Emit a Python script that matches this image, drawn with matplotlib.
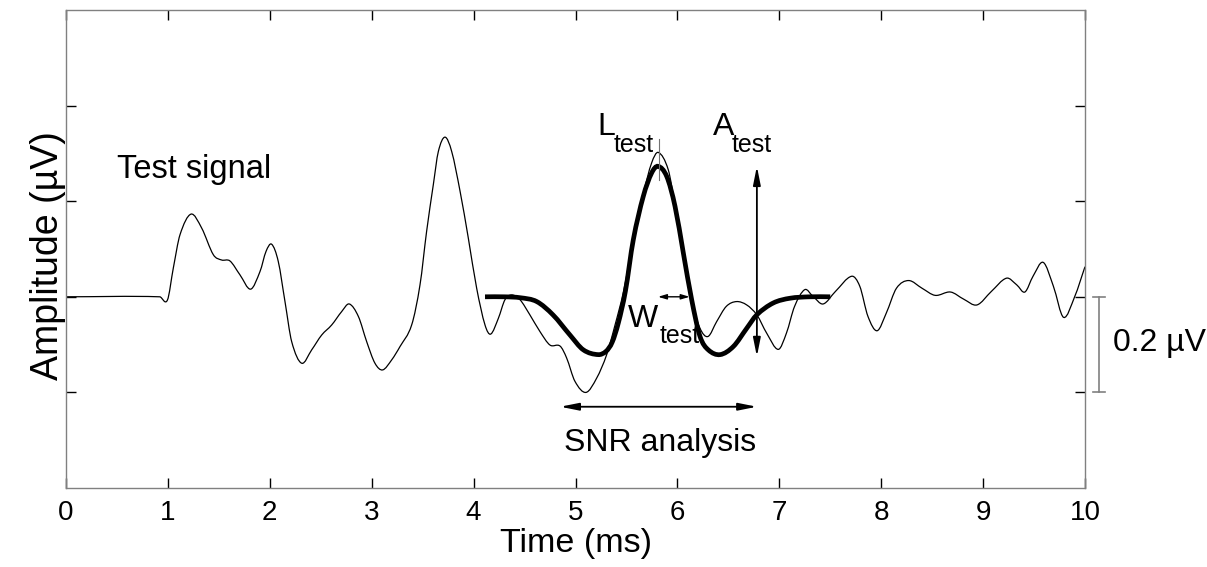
import matplotlib
matplotlib.use("Agg")
import matplotlib.pyplot as plt
from matplotlib.path import Path
from matplotlib.patches import PathPatch

plt.rcParams['font.family'] = ['Liberation Sans', 'DejaVu Sans']

# ---- data ----
signal_t = [0.0, 0.92, 0.995, 1.053, 1.119, 1.227, 1.331, 1.446, 1.527, 1.609, 1.707,
            1.812, 1.904, 1.963, 2.018, 2.083, 2.149, 2.215, 2.313, 2.411, 2.509,
            2.607, 2.705, 2.78, 2.869, 2.951, 3.032, 3.107, 3.196, 3.278, 3.392,
            3.474, 3.539, 3.605, 3.654, 3.719, 3.785, 3.867, 3.948, 4.030, 4.112,
            4.168, 4.243, 4.308, 4.374, 4.455, 4.553, 4.652, 4.750, 4.848, 4.913,
            4.995, 5.103, 5.208, 5.306, 5.388, 5.47, 5.567, 5.665, 5.747, 5.813,
            5.91, 5.977, 6.058, 6.14, 6.22, 6.30, 6.385, 6.48, 6.58, 6.68, 6.78,
            6.876, 6.99, 7.07, 7.15, 7.25, 7.33, 7.43, 7.55, 7.71, 7.79, 7.87,
            7.96, 8.05, 8.15, 8.27, 8.40, 8.53, 8.68, 8.81, 8.94, 9.08, 9.23,
            9.33, 9.41, 9.49, 9.59, 9.69, 9.79, 9.90, 10.0]
signal_v = [0.0, 0.0, -0.007, 0.060, 0.130, 0.173, 0.144, 0.088, 0.077, 0.075, 0.046,
            0.016, 0.053, 0.095, 0.110, 0.074, -0.010, -0.094, -0.139, -0.111, -0.080,
            -0.059, -0.031, -0.015, -0.041, -0.094, -0.139, -0.153, -0.132, -0.104, -0.059,
            0.025, 0.137, 0.235, 0.304, 0.334, 0.304, 0.221, 0.123, 0.018, -0.059,
            -0.078, -0.045, -0.006, 0.004, -0.006, -0.038, -0.073, -0.101, -0.103, -0.128,
            -0.177, -0.200, -0.170, -0.121, -0.059, 0.010, 0.119, 0.215, 0.280, 0.302,
            0.266, 0.190, 0.092, -0.006, -0.065, -0.083, -0.052, -0.020, -0.010, -0.017, -0.038,
            -0.076, -0.110, -0.076, -0.020, 0.015, 0.001, -0.015, 0.011, 0.043, 0.022, -0.041,
            -0.071, -0.034, 0.018, 0.034, 0.018, 0.003, 0.010, -0.005, -0.017, 0.011, 0.039,
            0.025, 0.010, 0.043, 0.072, 0.022, -0.043, 0.001, 0.063]

template_t = [4.112, 4.30, 4.46, 4.62, 4.78, 4.946, 5.077, 5.224, 5.30, 5.36, 5.42,
              5.49, 5.567, 5.665, 5.747, 5.81, 5.895, 5.977, 6.058, 6.14,
              6.222, 6.303, 6.418, 6.549, 6.68, 6.778, 6.94, 7.105, 7.30, 7.50]
template_v = [0.0, 0.0, -0.002, -0.010, -0.038, -0.080, -0.111, -0.121, -0.114, -0.095, -0.055,
              0.012, 0.119, 0.210, 0.259, 0.273, 0.252, 0.189, 0.092, -0.006,
              -0.083, -0.111, -0.121, -0.104, -0.066, -0.038, -0.013, -0.003, 0.0, 0.0]

x_ticks = [0, 1, 2, 3, 4, 5, 6, 7, 8, 9, 10]
y_ticks = [-0.2, 0.0, 0.2, 0.4]

latency = 5.82
peak_amp = 0.273
trough_amp = -0.125
width_span = (5.81, 6.12)
snr_span = (4.85, 6.78)
scale_bar = (0.0, -0.2)


def smooth_path(t, v):
    """Cubic Hermite (Bezier) path through the read points; matplotlib draws the curve."""
    n = len(t)
    slopes = []
    for i in range(n):
        if i == 0:
            s = (v[1] - v[0]) / (t[1] - t[0])
        elif i == n - 1:
            s = (v[-1] - v[-2]) / (t[-1] - t[-2])
        else:
            s = (v[i + 1] - v[i - 1]) / (t[i + 1] - t[i - 1])
        slopes.append(s)
    verts = [(t[0], v[0])]
    codes = [Path.MOVETO]
    for i in range(n - 1):
        dt = t[i + 1] - t[i]
        verts += [(t[i] + dt / 3, v[i] + slopes[i] * dt / 3),
                  (t[i + 1] - dt / 3, v[i + 1] - slopes[i + 1] * dt / 3),
                  (t[i + 1], v[i + 1])]
        codes += [Path.CURVE4] * 3
    return Path(verts, codes)


# ---- figure ----
fig = plt.figure(figsize=(12.07, 5.67), dpi=100)
ax = fig.add_axes([66 / 1207, 1 - 488 / 567, (1085 - 66) / 1207, (488 - 10) / 567])

ax.add_patch(PathPatch(smooth_path(signal_t, signal_v), fill=False, edgecolor='black',
                       lw=0.9, zorder=2))
ax.add_patch(PathPatch(smooth_path(template_t, template_v), fill=False, edgecolor='black',
                       lw=3.4, zorder=3, capstyle='butt'))

ax.set_xlim(0, 10)
ax.set_ylim(-0.4, 0.6)
ax.set_xticks(x_ticks)
ax.set_xticklabels([str(t) for t in x_ticks])
ax.set_yticks(y_ticks)
ax.set_yticklabels([])
ax.tick_params(direction='in', length=7, width=1, color='black', top=True, right=True,
               labelsize=20, pad=9)
for s in ax.spines.values():
    s.set_color('0.5')
    s.set_linewidth(1.0)

ax.set_xlabel('Time (ms)', fontsize=24.5, va='top')
ax.xaxis.set_label_coords(0.5, -0.083)
ax.set_ylabel('Amplitude (\u00b5V)', fontsize=27)
ax.yaxis.set_label_coords(0.0, 0.487)

# annotations
ax.text(0.497, 0.249, 'Test signal', fontsize=23.5, ha='left', va='baseline')

ax.plot([latency, latency], [0.245, 0.330], color='0.45', lw=0.8, zorder=4)
ax.text(5.21, 0.339, 'L', fontsize=23, ha='left', va='baseline')
ax.text(5.37, 0.302, 'test', fontsize=18, ha='left', va='baseline')

ax.annotate('', xy=(6.78, peak_amp), xytext=(6.78, trough_amp),
            arrowprops=dict(arrowstyle='<|-|>,head_length=1.1,head_width=0.22',
                            color='black', lw=1.3, shrinkA=0, shrinkB=0))
ax.text(6.35, 0.339, 'A', fontsize=23, ha='left', va='baseline')
ax.text(6.53, 0.302, 'test', fontsize=18, ha='left', va='baseline')

ax.annotate('', xy=(width_span[0], 0.0), xytext=(width_span[1], 0.0),
            arrowprops=dict(arrowstyle='<|-|>,head_length=0.5,head_width=0.15',
                            color='black', lw=1.0, shrinkA=0, shrinkB=0))
ax.text(5.515, -0.063, 'W', fontsize=23, ha='left', va='baseline')
ax.text(5.83, -0.096, 'test', fontsize=18, ha='left', va='baseline')

ax.annotate('', xy=(snr_span[0], -0.230), xytext=(snr_span[1], -0.230),
            arrowprops=dict(arrowstyle='<|-|>,head_length=1.1,head_width=0.22',
                            color='black', lw=1.3, shrinkA=0, shrinkB=0))
ax.text(5.83, -0.306, 'SNR analysis', fontsize=23, ha='center', va='center')

# scale bar outside the axes
xb = 10.137
ax.plot([xb, xb], list(scale_bar), color='0.5', lw=1.2, clip_on=False)
ax.plot([10.08, 10.20], [scale_bar[0]] * 2, color='0.5', lw=1.2, clip_on=False)
ax.plot([10.08, 10.20], [scale_bar[1]] * 2, color='0.5', lw=1.2, clip_on=False)
ax.text(10.27, -0.096, '0.2 \u00b5V', fontsize=23, ha='left', va='center', clip_on=False)

fig.savefig('out.png', dpi=100)
